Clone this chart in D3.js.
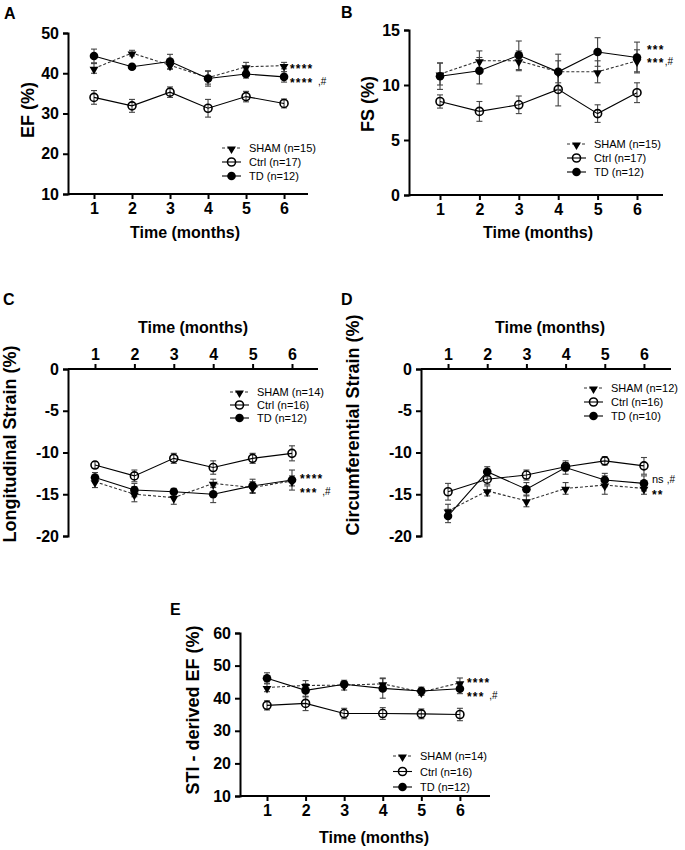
<!DOCTYPE html>
<html><head><meta charset="utf-8">
<script src="https://cdn.jsdelivr.net/npm/d3@7"></script>
<style>html,body{margin:0;padding:0;background:#fff;}</style>
</head><body>
<script>
// ---------- DATA ----------
const MONTHS = [1, 2, 3, 4, 5, 6];
const GROUPS = ["SHAM", "Ctrl", "TD"];

// Panel A: EF (%)
const EF_SHAM = [41.2, 45.0, 42.0, 38.9, 41.6, 41.9];
const EF_SHAM_SEM = [1.2, 0.7, 1.0, 1.6, 1.1, 0.8];
const EF_CTRL = [34.0, 31.9, 35.3, 31.3, 34.2, 32.5];
const EF_CTRL_SEM = [1.7, 1.6, 1.3, 2.2, 1.3, 1.1];
const EF_TD = [44.3, 41.6, 42.9, 38.7, 39.8, 39.1];
const EF_TD_SEM = [1.7, 0.6, 1.8, 1.9, 1.0, 1.3];
const EF_N = ["SHAM (n=15)", "Ctrl (n=17)", "TD (n=12)"];
const EF_TICKS = [10, 20, 30, 40, 50];
const EF_SIG = ["****", "**** ,#"];

// Panel B: FS (%)
const FS_SHAM = [11.0, 12.2, 12.2, 11.2, 11.2, 12.2];
const FS_SHAM_SEM = [1.0, 0.9, 0.9, 1.0, 1.0, 1.0];
const FS_CTRL = [8.5, 7.6, 8.2, 9.6, 7.4, 9.3];
const FS_CTRL_SEM = [0.6, 0.9, 0.8, 1.5, 0.8, 0.9];
const FS_TD = [10.8, 11.3, 12.7, 11.2, 13.0, 12.5];
const FS_TD_SEM = [1.2, 1.2, 1.3, 1.6, 1.3, 1.4];
const FS_N = ["SHAM (n=15)", "Ctrl (n=17)", "TD (n=12)"];
const FS_TICKS = [0, 5, 10, 15];
const FS_SIG = ["***", "***,#"];

// Panel C: Longitudinal strain (%)
const LS_SHAM = [-13.5, -15.0, -15.4, -13.7, -14.2, -13.4];
const LS_SHAM_SEM = [0.7, 0.9, 0.8, 0.5, 0.7, 0.6];
const LS_CTRL = [-11.5, -12.8, -10.7, -11.8, -10.7, -10.1];
const LS_CTRL_SEM = [0.4, 0.7, 0.6, 0.8, 0.6, 0.9];
const LS_TD = [-13.0, -14.5, -14.7, -15.0, -14.0, -13.3];
const LS_TD_SEM = [0.6, 0.8, 0.4, 1.0, 0.8, 1.2];
const LS_N = ["SHAM (n=14)", "Ctrl (n=16)", "TD (n=12)"];
const LS_TICKS = [0, -5, -10, -15, -20];
const LS_SIG = ["****", "*** ,#"];

// Panel D: Circumferential strain (%)
const CS_SHAM = [-17.0, -14.6, -15.8, -14.3, -13.9, -14.3];
const CS_SHAM_SEM = [0.8, 0.6, 0.7, 0.7, 1.1, 0.7];
const CS_CTRL = [-14.7, -13.2, -12.7, -11.7, -11.0, -11.6];
const CS_CTRL_SEM = [1.0, 0.6, 0.6, 0.5, 0.5, 1.0];
const CS_TD = [-17.6, -12.3, -14.4, -11.8, -13.3, -13.7];
const CS_TD_SEM = [0.8, 0.6, 0.8, 0.8, 0.8, 0.9];
const CS_N = ["SHAM (n=12)", "Ctrl (n=16)", "TD (n=10)"];
const CS_TICKS = [0, -5, -10, -15, -20];
const CS_SIG = ["ns ,#", "**"];

// Panel E: STI-derived EF (%)
const STI_SHAM = [43.3, 43.9, 44.0, 44.4, 41.9, 44.7];
const STI_SHAM_SEM = [1.3, 1.5, 1.5, 1.8, 1.0, 1.5];
const STI_CTRL = [37.8, 38.4, 35.3, 35.3, 35.2, 35.0];
const STI_CTRL_SEM = [1.4, 2.2, 1.6, 1.8, 1.5, 1.9];
const STI_TD = [46.1, 42.4, 44.3, 43.0, 42.2, 42.9];
const STI_TD_SEM = [1.7, 2.0, 0.7, 3.0, 1.2, 1.5];
const STI_N = ["SHAM (n=14)", "Ctrl (n=16)", "TD (n=12)"];
const STI_TICKS = [10, 20, 30, 40, 50, 60];
const STI_SIG = ["****", "*** ,#"];

const X_TITLE = "Time (months)";

// ---------- DRAW ----------
const FONT = '"Liberation Sans", Arial, Helvetica, sans-serif';
const svg = d3.select("body").append("svg")
  .attr("width", 685).attr("height", 850)
  .style("font-family", FONT);
svg.append("rect").attr("width", 685).attr("height", 850).attr("fill", "#fff");

const triangle = d3.symbol().type(d3.symbolTriangle).size(34)();
const plainFmt = d => String(d);

function drawPanel(p) {
  const g = svg.append("g");
  const x = d3.scaleLinear().domain(p.xDom).range([p.left, p.right]);
  const y = d3.scaleLinear().domain(p.yDom).range([p.bottom, p.top]);
  const axisY = p.topAxis ? p.top : p.bottom;

  g.append("text").attr("x", p.letterX).attr("y", p.letterY)
    .attr("font-size", 16).attr("font-weight", "bold").text(p.letter);

  const xa = (p.topAxis ? d3.axisTop(x) : d3.axisBottom(x))
    .tickValues(MONTHS).tickFormat(plainFmt).tickSize(5).tickPadding(4);
  const gx = g.append("g").attr("transform", `translate(0,${axisY})`).call(xa);
  gx.select(".domain").attr("d", `M${p.left},0H${p.right}`);
  const ya = d3.axisLeft(y).tickValues(p.yTicks).tickFormat(plainFmt).tickSize(5).tickPadding(4);
  const gy = g.append("g").attr("transform", `translate(${p.left},0)`).call(ya);
  [gx, gy].forEach(a => {
    a.select(".domain").attr("stroke", "#000").attr("stroke-width", 2);
    a.selectAll(".tick line").attr("stroke", "#000").attr("stroke-width", 2);
    a.selectAll(".tick text").attr("font-size", 16).attr("font-weight", "bold")
      .attr("font-family", FONT).attr("fill", "#000");
  });

  g.append("text").attr("x", p.xtX).attr("y", p.xtY).attr("text-anchor", "middle")
    .attr("font-size", 16).attr("font-weight", "bold").text(X_TITLE);
  g.append("text").attr("transform", `translate(${p.ytX},${p.ytY}) rotate(-90)`)
    .attr("text-anchor", "middle").attr("font-size", 18).attr("font-weight", "bold").text(p.yTitle);

  const series = [
    {name: "SHAM", v: p.sham, e: p.shamE, dash: "3,2", color: "#333"},
    {name: "Ctrl", v: p.ctrl, e: p.ctrlE, dash: null, color: "#000"},
    {name: "TD", v: p.td, e: p.tdE, dash: null, color: "#000"}
  ];
  const line = d3.line().x((d, i) => x(MONTHS[i])).y(d => y(d));
  series.forEach(s => {
    const eb = g.append("g").attr("stroke", "#444").attr("stroke-width", 1.1);
    s.v.forEach((v, i) => {
      const cx = x(MONTHS[i]);
      const y1 = y(v + s.e[i]), y2 = y(v - s.e[i]);
      eb.append("line").attr("x1", cx).attr("x2", cx).attr("y1", y1).attr("y2", y2);
      eb.append("line").attr("x1", cx - 3).attr("x2", cx + 3).attr("y1", y1).attr("y2", y1);
      eb.append("line").attr("x1", cx - 3).attr("x2", cx + 3).attr("y1", y2).attr("y2", y2);
    });
    g.append("path").attr("d", line(s.v)).attr("fill", "none")
      .attr("stroke", s.color).attr("stroke-width", 1.1)
      .attr("stroke-dasharray", s.dash);
  });
  series.forEach(s => {
    s.v.forEach((v, i) => drawMarker(g, s.name, x(MONTHS[i]), y(v)));
  });

  p.legendN.forEach((lab, i) => {
    const ly = p.legY + i * p.legDy;
    g.append("line").attr("x1", p.legX).attr("x2", p.legX + 19).attr("y1", ly).attr("y2", ly)
      .attr("stroke", i === 0 ? "#333" : "#000").attr("stroke-width", 1.1)
      .attr("stroke-dasharray", i === 0 ? "3,2" : null);
    drawMarker(g, GROUPS[i], p.legX + 9.5, ly);
    g.append("text").attr("x", p.legX + 27).attr("y", ly + 4)
      .attr("font-size", 11).text(lab);
  });

  // significance marks
  p.sig.forEach((t, i) => {
    const parts = t.split(",");
    const star = parts[0].trim().startsWith("*");
    const tx = g.append("text").attr("x", p.sigX)
      .attr("y", p.sigY[i] + (star ? 7 : 4));
    tx.append("tspan").text(parts[0])
      .attr("font-size", star ? 12 : 11)
      .attr("font-weight", star ? "bold" : "normal")
      .attr("letter-spacing", star ? 1.2 : 0);
    if (parts.length > 1) {
      tx.append("tspan").attr("font-size", 10).attr("font-weight", "normal")
        .attr("dy", star ? -2 : 0).text("," + parts[1]);
    }
  });
}

function drawMarker(g, name, cx, cy) {
  if (name === "SHAM") {
    g.append("path").attr("d", triangle)
      .attr("transform", `translate(${cx},${cy + 1}) rotate(180)`).attr("fill", "#000");
  } else if (name === "Ctrl") {
    g.append("circle").attr("cx", cx).attr("cy", cy).attr("r", 4)
      .attr("fill", "none").attr("stroke", "#000").attr("stroke-width", 1.6);
  } else {
    g.append("circle").attr("cx", cx).attr("cy", cy).attr("r", 4.3).attr("fill", "#000");
  }
}

drawPanel({letter: "A", letterX: 4, letterY: 19,
  left: 68, right: 308, xDom: [0.316, 6.63], top: 33, bottom: 194, yDom: [10, 50],
  yTicks: EF_TICKS, topAxis: false, xtX: 185, xtY: 238, ytX: 34, ytY: 110, yTitle: "EF (%)",
  sham: EF_SHAM, shamE: EF_SHAM_SEM, ctrl: EF_CTRL, ctrlE: EF_CTRL_SEM, td: EF_TD, tdE: EF_TD_SEM,
  legendN: EF_N, legX: 222, legY: 148, legDy: 14, sig: EF_SIG, sigX: 290, sigY: [66, 80]});

drawPanel({letter: "B", letterX: 341, letterY: 18,
  left: 409, right: 663, xDom: [0.213, 6.66], top: 30, bottom: 195, yDom: [0, 15],
  yTicks: FS_TICKS, topAxis: false, xtX: 538, xtY: 238, ytX: 374, ytY: 104, yTitle: "FS (%)",
  sham: FS_SHAM, shamE: FS_SHAM_SEM, ctrl: FS_CTRL, ctrlE: FS_CTRL_SEM, td: FS_TD, tdE: FS_TD_SEM,
  legendN: FS_N, legX: 567, legY: 144, legDy: 14, sig: FS_SIG, sigX: 647, sigY: [47, 60]});

drawPanel({letter: "C", letterX: 3, letterY: 305,
  left: 68, right: 318, xDom: [0.315, 6.66], top: 369, bottom: 536, yDom: [-20, 0],
  yTicks: LS_TICKS, topAxis: true, xtX: 193, xtY: 333, ytX: 16, ytY: 444, yTitle: "Longitudinal Strain (%)",
  sham: LS_SHAM, shamE: LS_SHAM_SEM, ctrl: LS_CTRL, ctrlE: LS_CTRL_SEM, td: LS_TD, tdE: LS_TD_SEM,
  legendN: LS_N, legX: 230, legY: 392, legDy: 13, sig: LS_SIG, sigX: 300, sigY: [476, 490]});

drawPanel({letter: "D", letterX: 341, letterY: 305,
  left: 421, right: 671, xDom: [0.31, 6.69], top: 369, bottom: 536, yDom: [-20, 0],
  yTicks: CS_TICKS, topAxis: true, xtX: 550, xtY: 333, ytX: 359, ytY: 425, yTitle: "Circumferential Strain (%)",
  sham: CS_SHAM, shamE: CS_SHAM_SEM, ctrl: CS_CTRL, ctrlE: CS_CTRL_SEM, td: CS_TD, tdE: CS_TD_SEM,
  legendN: CS_N, legX: 584, legY: 388, legDy: 14, sig: CS_SIG, sigX: 652, sigY: [479, 492]});

drawPanel({letter: "E", letterX: 170, letterY: 615,
  left: 240, right: 490, xDom: [0.30, 6.78], top: 633, bottom: 796, yDom: [10, 60],
  yTicks: STI_TICKS, topAxis: false, xtX: 374, xtY: 843, ytX: 199, ytY: 710, yTitle: "STI - derived EF (%)",
  sham: STI_SHAM, shamE: STI_SHAM_SEM, ctrl: STI_CTRL, ctrlE: STI_CTRL_SEM, td: STI_TD, tdE: STI_TD_SEM,
  legendN: STI_N, legX: 393, legY: 756, legDy: 15.5, sig: STI_SIG, sigX: 467, sigY: [680, 694]});
</script>
</body></html>
